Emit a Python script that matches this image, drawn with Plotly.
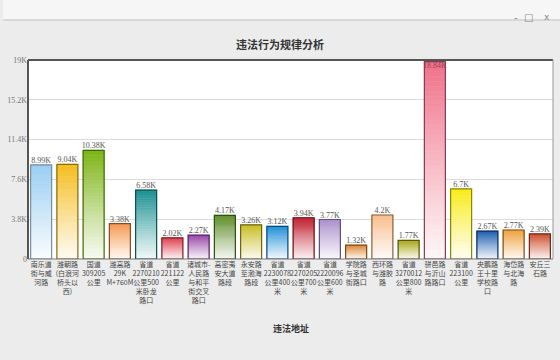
import plotly.graph_objects as go

categories = [
    "南乐道<br>街与威<br>河路",
    "潍朝路<br>(白浪河<br>桥头以<br>西)",
    "国道<br>309205<br>公里",
    "潍高路<br>29K<br>M+760M",
    "省道<br>2270210<br>公里500<br>米卧龙<br>路口",
    "省道<br>221122<br>公里",
    "诸城市-<br>人民路<br>与和平<br>街交叉<br>路口",
    "高密夷<br>安大道<br>路段",
    "永安路<br>至渤海<br>路段",
    "省道<br>2230078<br>公里400<br>米",
    "省道<br>2270205<br>公里700<br>米",
    "省道<br>2220096<br>公里600<br>米",
    "学院路<br>与圣城<br>街路口",
    "西环路<br>与潍胶<br>路",
    "省道<br>3270012<br>公里800<br>米",
    "骈邑路<br>与沂山<br>路路口",
    "省道<br>223100<br>公里",
    "央鹏路<br>王十里<br>学校路<br>口",
    "海岱路<br>与北海<br>路",
    "安丘三<br>石路",
]
values = [8990, 9040, 10380, 3380, 6580, 2020, 2270, 4170, 3260, 3120,
          3940, 3770, 1320, 4200, 1770, 18840, 6700, 2670, 2770, 2390]
value_labels = ["8.99K", "9.04K", "10.38K", "3.38K", "6.58K", "2.02K", "2.27K",
                "4.17K", "3.26K", "3.12K", "3.94K", "3.77K", "1.32K", "4.2K",
                "1.77K", "18.84K", "6.7K", "2.67K", "2.77K", "2.39K"]
y_tickvals = [0, 3800, 7600, 11400, 15200, 19000]
y_ticktext = ["0", "3.8K", "7.6K", "11.4K", "15.2K", "19K"]

bar_colors = ["#98cdf2", "#f4bc1c", "#7cb414", "#f7964c", "#179090", "#e0404e",
              "#9848a8", "#5a8a24", "#c8bc1c", "#1c8fd8", "#c01c2c", "#a88ccc",
              "#e08c3c", "#f8bc8c", "#aca81c", "#f07088", "#f8ec14", "#1c5cb0",
              "#f0a03c", "#d04c2c"]
edge_colors = ["#7a8ea0", "#8a6a10", "#3e6a08", "#8a4a20", "#0c5050", "#802028",
               "#5a2468", "#2e5010", "#6a6410", "#0c4a78", "#701018", "#605078",
               "#7a4a18", "#8a6040", "#5a5808", "#804050", "#8a8408", "#0c3060",
               "#7a5018", "#702818"]


def mix(c, t):
    r, g, b = int(c[1:3], 16), int(c[3:5], 16), int(c[5:7], 16)
    r = round(255 + (r - 255) * t)
    g = round(255 + (g - 255) * t)
    b = round(255 + (b - 255) * t)
    return f"rgb({r},{g},{b})"


fig = go.Figure()
xs = list(range(len(values)))
N = 40
for k in range(N):
    t = 0.06 + 0.94 * ((k + 0.5) / N) ** 1.1
    fig.add_trace(go.Bar(
        x=xs, y=[v / N for v in values], base=[v * k / N for v in values],
        marker=dict(color=[mix(c, t) for c in bar_colors],
                    line=dict(width=0.6, color=[mix(c, t) for c in bar_colors])),
        hoverinfo="skip", showlegend=False))

fig.add_trace(go.Bar(
    x=xs, y=values,
    marker=dict(color="rgba(0,0,0,0)", line=dict(color=edge_colors, width=1.2)),
    showlegend=False))

text_pos = ["bottom center" if v > 17500 else "top center" for v in values]
text_col = ["#a04050" if v > 17500 else "#555555" for v in values]
fig.add_trace(go.Scatter(
    x=xs, y=values, mode="text", text=value_labels, textposition=text_pos,
    textfont=dict(family="Liberation Serif", size=8, color=text_col),
    showlegend=False, hoverinfo="skip", cliponaxis=False))

# plot area: x 25..553, y 60..259
def px_x(x):
    return (x - 25) / 528

def px_y(y):
    return (259 - y) / 199

shapes = [
    dict(type="rect", xref="paper", yref="paper", x0=px_x(0), x1=px_x(560),
         y0=px_y(20), y1=px_y(0), fillcolor="#f6f6f6", line=dict(width=0), layer="below"),
    dict(type="line", xref="paper", yref="paper", x0=px_x(0), x1=px_x(560),
         y0=px_y(20), y1=px_y(20), line=dict(color="#cfcfcf", width=1.5)),
    dict(type="line", xref="paper", yref="paper", x0=0, x1=0, y0=0, y1=1,
         line=dict(color="#555555", width=2)),
    dict(type="line", xref="paper", yref="paper", x0=0, x1=1, y0=1, y1=1,
         line=dict(color="#555555", width=2)),
    dict(type="line", xref="paper", yref="paper", x0=1, x1=1, y0=0, y1=1,
         line=dict(color="#999999", width=1)),
    dict(type="line", xref="paper", yref="paper", x0=0, x1=1, y0=0, y1=0,
         line=dict(color="#777777", width=1)),
]

annotations = [
    dict(text="<b>违法地址</b>", xref="paper", yref="paper", x=px_x(289), y=px_y(337),
         showarrow=False, font=dict(family="Noto Sans CJK SC", size=9, color="#333333")),
    dict(text="-", xref="paper", yref="paper", x=px_x(520), y=px_y(10),
         showarrow=False, font=dict(family="DejaVu Sans", size=10, color="#888888")),
    dict(text="□", xref="paper", yref="paper", x=px_x(535), y=px_y(10),
         showarrow=False, font=dict(family="DejaVu Sans", size=10, color="#888888")),
    dict(text="x", xref="paper", yref="paper", x=px_x(552), y=px_y(10),
         showarrow=False, font=dict(family="DejaVu Sans", size=9, color="#888888")),
]

fig.update_layout(
    width=560, height=360,
    margin=dict(l=25, r=7, t=60, b=101),
    paper_bgcolor="#ececec", plot_bgcolor="#ffffff",
    barmode="overlay", bargap=0.2,
    title=dict(text="<b>违法行为规律分析</b>", x=0.5, xanchor="center",
               yref="container", y=1 - 45 / 360, yanchor="middle",
               font=dict(family="Noto Sans CJK SC", size=11, color="#333333")),
    xaxis=dict(tickvals=xs, ticktext=categories, range=[-0.5, len(values) - 0.5],
               tickfont=dict(family="Noto Sans CJK SC", size=7, color="#444444"),
               showgrid=False, zeroline=False, ticks="", tickangle=0,
               ticklen=2),
    yaxis=dict(range=[0, 19000], tickvals=y_tickvals, ticktext=y_ticktext,
               tickfont=dict(family="Liberation Serif", size=8, color="#777777"),
               showgrid=True, gridcolor="#dcdcdc", gridwidth=1, zeroline=False,
               ticks=""),
    shapes=shapes, annotations=annotations,
)

fig.write_html(
    "out.html",
    config={"displayModeBar": False},
    post_script="document.body.style.margin='0';document.body.style.overflow='hidden';",
)
